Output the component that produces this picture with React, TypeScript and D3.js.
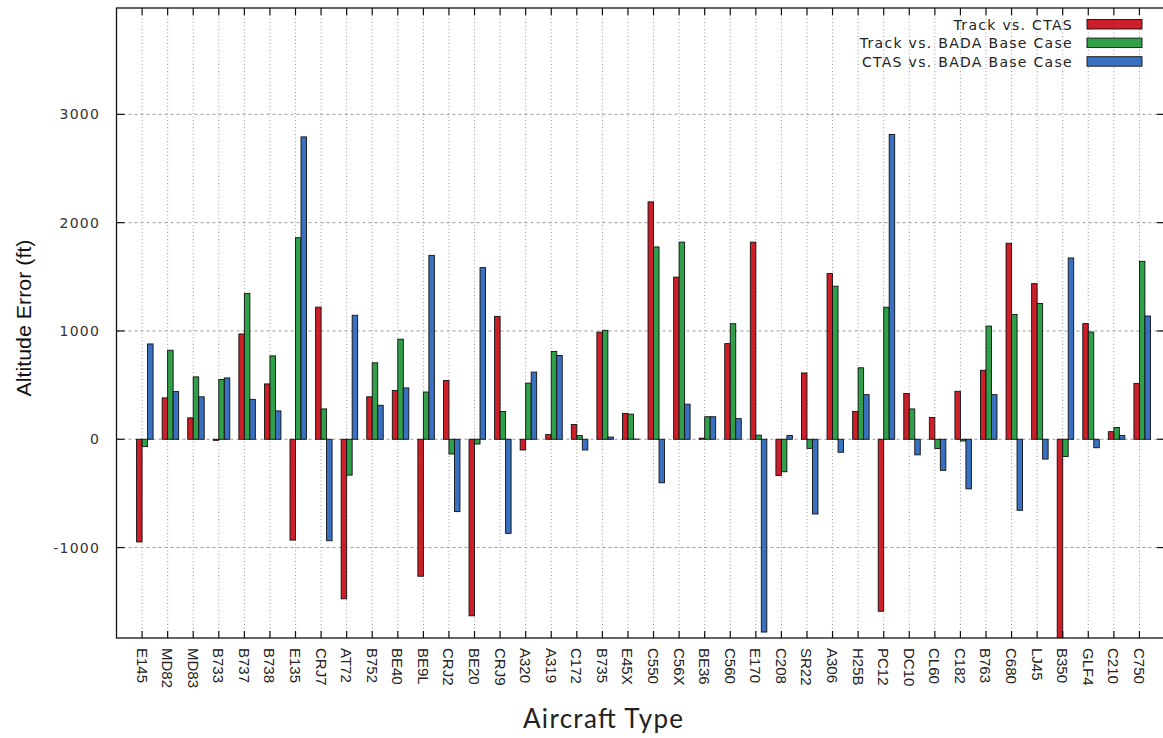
import * as d3 from "d3";

const categories = [
  "E145", "MD82", "MD83", "B733", "B737", "B738", "E135", "CRJ7", "AT72", "B752",
  "BE40", "BE9L", "CRJ2", "BE20", "CRJ9", "A320", "A319", "C172", "B735", "E45X",
  "C550", "C56X", "BE36", "C560", "E170", "C208", "SR22", "A306", "H25B", "PC12",
  "DC10", "CL60", "C182", "B763", "C680", "LJ45", "B350", "GLF4", "C210", "C750",
];

const trackVsCtas = [
  -948, 382, 198, -10, 972, 511, -931, 1220, -1473, 392,
  450, -1265, 542, -1630, 1135, -99, 44, 136, 989, 239,
  2192, 1497, 10, 883, 1820, -334, 612, 1530, 256, -1588,
  423, 202, 443, 637, 1810, 1437, -2000, 1068, 70, 516,
];

const trackVsBada = [
  -68, 822, 576, 552, 1347, 770, 1861, 280, -331, 706,
  924, 436, -136, -44, 256, 518, 811, 34, 1006, 232,
  1776, 1820, 208, 1067, 38, -300, -84, 1413, 660, 1219,
  280, -85, -16, 1045, 1153, 1254, -159, 990, 109, 1643,
];

const ctasVsBada = [
  880, 440, 392, 566, 368, 262, 2792, -937, 1145, 314,
  474, 1698, -668, 1585, -869, 620, 774, -99, 20, 2,
  -402, 324, 208, 191, -1780, 34, -690, -120, 412, 2815,
  -144, -287, -458, 412, -656, -183, 1674, -78, 35, 1138,
];

const seriesNames = ["Track vs. CTAS", "Track vs. BADA Base Case", "CTAS vs. BADA Base Case"];
const seriesColors = ["#cc1f2a", "#2f9f49", "#3a70c0"];
const yTicks = [-1000, 0, 1000, 2000, 3000];

const W = 1163;
const H = 738;
const plot = { left: 116.5, right: 1165, top: 8, bottom: 638 };

export default function App() {
  const x = d3.scaleLinear().domain([-1, categories.length]).range([plot.left, plot.right]);
  const y = d3.scaleLinear().domain([-1835, 3982]).range([plot.bottom, plot.top]);
  const barW = 0.215;
  const series = [trackVsCtas, trackVsBada, ctasVsBada];
  const offsets = [-barW, 0, barW];

  return (
    <svg width={W} height={H} style={{ position: "absolute", left: 0, top: 0, background: "#fff" }}>
      <defs>
        <clipPath id="plotClip">
          <rect x={plot.left} y={plot.top} width={plot.right - plot.left} height={plot.bottom - plot.top} />
        </clipPath>
      </defs>

      {/* grid */}
      {categories.map((c, i) => (
        <line key={"vg" + c} x1={x(i)} x2={x(i)} y1={plot.top} y2={plot.bottom}
          stroke="#9a9a9a" strokeWidth={1} strokeDasharray="1,2.5" />
      ))}
      {yTicks.map(t => (
        <line key={"hg" + t} x1={plot.left} x2={plot.right} y1={y(t)} y2={y(t)}
          stroke="#9a9a9a" strokeWidth={1} strokeDasharray="3,3" />
      ))}

      {/* bars */}
      <g clipPath="url(#plotClip)">
        {series.map((vals, s) => vals.map((v, i) => {
          const x0 = x(i + offsets[s]);
          const x1 = x(i + offsets[s] + barW);
          return (
            <rect key={s + "-" + i} x={x0} width={x1 - x0}
              y={Math.min(y(v), y(0))} height={Math.abs(y(v) - y(0))}
              fill={seriesColors[s]} stroke="#111" strokeWidth={0.9} />
          );
        }))}
      </g>

      {/* frame + ticks */}
      <rect x={plot.left} y={plot.top} width={plot.right - plot.left} height={plot.bottom - plot.top}
        fill="none" stroke="#111" strokeWidth={1.3} />
      {categories.map((c, i) => (
        <g key={"xt" + c}>
          <line x1={x(i)} x2={x(i)} y1={plot.top} y2={plot.top + 7} stroke="#111" strokeWidth={1.2} />
          <line x1={x(i)} x2={x(i)} y1={plot.bottom} y2={plot.bottom - 7} stroke="#111" strokeWidth={1.2} />
        </g>
      ))}
      {yTicks.map(t => (
        <g key={"yt" + t}>
          <line x1={plot.left} x2={plot.left + 8} y1={y(t)} y2={y(t)} stroke="#111" strokeWidth={1.2} />
          <line x1={plot.right} x2={plot.right - 8} y1={y(t)} y2={y(t)} stroke="#111" strokeWidth={1.2} />
          <text x={100} y={y(t)} textAnchor="end" dominantBaseline="central"
            fontFamily="DejaVu Sans" fontSize={14} letterSpacing={1.2} fill="#333">{t}</text>
        </g>
      ))}

      {/* x tick labels */}
      {categories.map((c, i) => (
        <text key={"xl" + c} transform={`translate(${x(i)},${plot.bottom + 10}) rotate(90)`}
          dominantBaseline="central" fontFamily="Liberation Sans" fontSize={15} fill="#222">{c}</text>
      ))}

      {/* axis titles */}
      <text transform={`translate(23,318) rotate(-90)`} textAnchor="middle" dominantBaseline="central"
        fontFamily="Liberation Sans" fontSize={21} fill="#111" textLength={157} lengthAdjust="spacingAndGlyphs">
        Altitude Error (ft)
      </text>
      <text x={603} y={728} textAnchor="middle" fontFamily="Lato" fontSize={26} fill="#222"
        textLength={160} lengthAdjust="spacing">Aircraft Type</text>

      {/* legend */}
      {seriesNames.map((n, s) => (
        <g key={"lg" + n}>
          <text x={1073} y={24.5 + s * 18.6} textAnchor="end" dominantBaseline="central"
            fontFamily="DejaVu Sans" fontSize={14} letterSpacing={1.3} fill="#222">{n}</text>
          <rect x={1087} y={19.5 + s * 18.6} width={55} height={9.5}
            fill={seriesColors[s]} stroke="#111" strokeWidth={0.9} />
        </g>
      ))}
    </svg>
  );
}
